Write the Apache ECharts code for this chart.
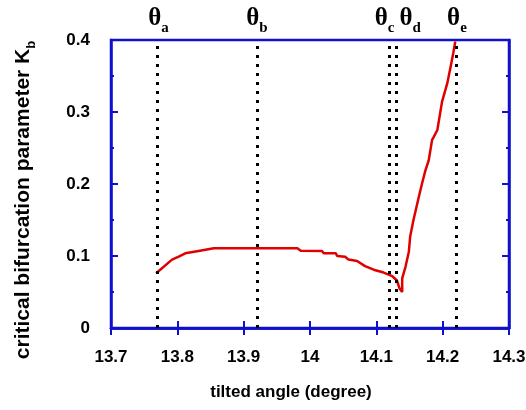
<!DOCTYPE html>
<html>
<head>
<meta charset="utf-8">
<script src="https://cdn.jsdelivr.net/npm/echarts@6/dist/echarts.min.js"></script>
<style>
  html, body { margin: 0; padding: 0; background: #fff; }
  #chart { width: 526px; height: 410px; }
</style>
</head>
<body>
<div id="chart"></div>
<script>
// tilted angle (degree) vs critical bifurcation parameter Kb
const angles = [13.768, 13.792, 13.802, 13.812, 13.832, 13.855, 13.981, 13.986, 14.018, 14.021,
  14.039, 14.041, 14.053, 14.058, 14.071, 14.083, 14.096, 14.111, 14.124, 14.131,
  14.135, 14.139, 14.139, 14.144, 14.149, 14.151, 14.156, 14.164, 14.169, 14.174,
  14.179, 14.184, 14.192, 14.199, 14.207, 14.212, 14.216, 14.219];
const kb = [0.076, 0.095, 0.099, 0.1037, 0.107, 0.1107, 0.1107, 0.1074, 0.107, 0.1037,
  0.1037, 0.100, 0.099, 0.095, 0.093, 0.086, 0.081, 0.077, 0.072, 0.066,
  0.055, 0.050, 0.069, 0.085, 0.106, 0.127, 0.150, 0.182, 0.201, 0.219,
  0.233, 0.261, 0.275, 0.314, 0.340, 0.363, 0.382, 0.398];
const thetaNames = ['a', 'b', 'c', 'd', 'e'];
const thetaAngles = [13.770, 13.920, 14.123, 14.135, 14.221];
const thetaShift = [1, 0, -5, 14, 1];
const xTicks = ['13.7', '13.8', '13.9', '14', '14.1', '14.2', '14.3'];

const blue = '#1010cc';
const labelFont = { color: '#000', fontFamily: 'Liberation Sans', fontWeight: 'bold', fontSize: 17 };

const myChart = echarts.init(document.getElementById('chart'));
const option = {
  animation: false,
  grid: {
    left: 111, right: 17, top: 40, bottom: 82, outerBoundsMode: 'none',
    show: true, borderColor: blue, borderWidth: 2.5
  },
  xAxis: [
    {
      type: 'value', min: 13.7, max: 14.3, interval: 0.1,
      name: 'tilted angle (degree)', nameLocation: 'middle', nameGap: 56,
      nameTextStyle: { color: '#000', fontFamily: 'Liberation Sans', fontWeight: 'bold', fontSize: 17, padding: [0, 38, 0, 0] },
      axisLine: { show: true, lineStyle: { color: blue, width: 2.5 } },
      axisTick: { inside: true, length: 7, lineStyle: { color: blue, width: 2 } },
      axisLabel: Object.assign({ margin: 21, formatter: (v) => xTicks[Math.round((v - 13.7) * 10)] }, labelFont),
      splitLine: { show: false }
    },
    {
      type: 'value', min: 13.7, max: 14.3, interval: 0.1, position: 'top',
      axisLine: { show: true, lineStyle: { color: blue, width: 2.5 } },
      axisTick: { inside: true, length: 7, lineStyle: { color: blue, width: 2 } },
      axisLabel: { show: false },
      splitLine: { show: false }
    }
  ],
  yAxis: [
    {
      type: 'value', min: 0, max: 0.4, interval: 0.1,
      name: '{n|critical bifurcation parameter K}{s|b}', nameLocation: 'middle', nameGap: 73,
      nameTextStyle: {
        padding: [0, 32, 0, 0],
        rich: {
          n: { color: '#000', fontFamily: 'Liberation Sans', fontWeight: 'bold', fontSize: 21, lineHeight: 30 },
          s: { color: '#000', fontFamily: 'Liberation Sans', fontWeight: 'bold', fontSize: 13, verticalAlign: 'bottom', lineHeight: 30 }
        }
      },
      axisLine: { show: true, lineStyle: { color: blue, width: 2.5 } },
      axisTick: { inside: true, length: 7, lineStyle: { color: blue, width: 2 } },
      minorTick: { show: true, splitNumber: 2, length: 3, lineStyle: { color: blue, width: 2 } },
      axisLabel: Object.assign({ margin: 21 }, labelFont),
      splitLine: { show: false },
      minorSplitLine: { show: false }
    },
    {
      type: 'value', min: 0, max: 0.4, interval: 0.1, position: 'right',
      axisLine: { show: true, lineStyle: { color: blue, width: 2.5 } },
      axisTick: { inside: true, length: 7, lineStyle: { color: blue, width: 2 } },
      minorTick: { show: true, splitNumber: 2, length: 3, lineStyle: { color: blue, width: 2 } },
      axisLabel: { show: false },
      splitLine: { show: false },
      minorSplitLine: { show: false }
    }
  ],
  series: [
    {
      type: 'line',
      data: angles.map((a, i) => [a, kb[i]]),
      showSymbol: false,
      lineStyle: { color: '#e00000', width: 2.5 },
      z: 3,
      markLine: {
        silent: true,
        symbol: 'none',
        lineStyle: { color: '#000', type: [3, 6], width: 3 },
        label: {
          position: 'end', distance: 4,
          formatter: (p) => '{t|θ}{s|' + p.name + '}',
          rich: {
            t: { color: '#000', fontFamily: 'Liberation Serif', fontWeight: 'bold', fontSize: 25, lineHeight: 30, verticalAlign: 'top' },
            s: { color: '#000', fontFamily: 'Liberation Serif', fontWeight: 'bold', fontSize: 15, lineHeight: 30, verticalAlign: 'bottom' }
          }
        },
        data: thetaAngles.map((a, i) => ({ name: thetaNames[i], xAxis: a, label: { offset: [thetaShift[i], 0] } }))
      }
    }
  ]
};
myChart.setOption(option);
</script>
</body>
</html>
